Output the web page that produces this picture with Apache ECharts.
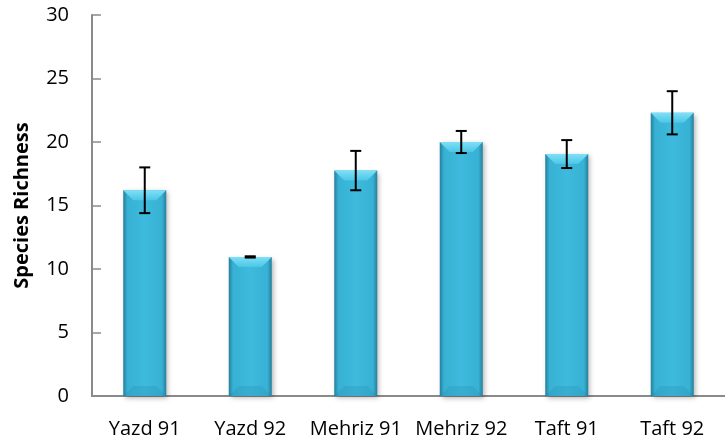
<!DOCTYPE html>
<html>
<head>
<meta charset="utf-8">
<script src="https://cdn.jsdelivr.net/npm/echarts@6/dist/echarts.min.js"></script>
<style>
  html, body { margin: 0; padding: 0; background: #fff; }
  #chart { width: 725px; height: 444px; }
</style>
</head>
<body>
<div id="chart"></div>
<script>
// data
const categories = ['Yazd 91', 'Yazd 92', 'Mehriz 91', 'Mehriz 92', 'Taft 91', 'Taft 92']
const richness = [16.2, 10.95, 17.75, 20.0, 19.05, 22.3]
const errors = [1.8, 0.05, 1.55, 0.87, 1.1, 1.7]
const yTicks = [0, 5, 10, 15, 20, 25, 30]

const FONT = 'Open Sans'
const BAR_W = 43
const AXIS_COLOR = '#8a8a8a'

const chart = echarts.init(document.getElementById('chart'))

// bevel on top / bottom of each bar, placed through the axis scale
function renderBevel(params, api) {
  const top = api.coord([api.value(0), api.value(1)])
  const base = api.coord([api.value(0), 0])
  const l = top[0] - BAR_W / 2, r = top[0] + BAR_W / 2, d = 10
  return {
    type: 'group',
    children: [
      {
        type: 'polygon',
        shape: { points: [[l, top[1]], [r, top[1]], [r - d, top[1] + d], [l + d, top[1] + d]] },
        style: {
          fill: new echarts.graphic.LinearGradient(0, 0, 0, 1, [
            { offset: 0, color: '#7fe0f6' },
            { offset: 1, color: '#4cc6e6' }
          ])
        }
      },
      {
        type: 'polygon',
        shape: { points: [[l, base[1]], [r, base[1]], [r - d, base[1] - d], [l + d, base[1] - d]] },
        style: { fill: 'rgba(30,110,140,0.15)' }
      }
    ]
  }
}

function renderError(params, api) {
  const x = api.value(0)
  const v = api.value(1), e = api.value(2)
  const hi = api.coord([x, v + e])
  const lo = api.coord([x, v - e])
  const cap = 5.5
  const style = { stroke: '#000', lineWidth: 2 }
  return {
    type: 'group',
    children: [
      { type: 'line', shape: { x1: hi[0], y1: hi[1], x2: lo[0], y2: lo[1] }, style },
      { type: 'line', shape: { x1: hi[0] - cap, y1: hi[1], x2: hi[0] + cap, y2: hi[1] }, style },
      { type: 'line', shape: { x1: lo[0] - cap, y1: lo[1], x2: lo[0] + cap, y2: lo[1] }, style }
    ]
  }
}

chart.setOption({
  animation: false,
  grid: { left: 92, right: -7, top: 15, bottom: 48 },
  xAxis: {
    type: 'category',
    data: categories,
    axisLine: { lineStyle: { color: AXIS_COLOR, width: 2 } },
    axisTick: { inside: true, length: 6, lineStyle: { color: AXIS_COLOR, width: 1.5 } },
    axisLabel: { color: '#000', fontFamily: FONT, fontSize: 20, margin: 23, interval: 0, hideOverlap: false }
  },
  yAxis: {
    type: 'value',
    min: yTicks[0], max: yTicks[yTicks.length - 1], interval: 5,
    name: 'Species Richness',
    nameLocation: 'middle',
    nameGap: 60,
    nameTextStyle: { color: '#000', fontFamily: FONT, fontSize: 20, fontWeight: 'bold' },
    axisLine: { show: true, lineStyle: { color: AXIS_COLOR, width: 2 } },
    axisTick: { show: true, inside: true, length: 9, lineStyle: { color: AXIS_COLOR, width: 1.5 } },
    axisLabel: { color: '#000', fontFamily: FONT, fontSize: 20, margin: 23 },
    splitLine: { show: false }
  },
  series: [
    {
      type: 'bar',
      data: richness,
      barWidth: BAR_W,
      itemStyle: {
        color: new echarts.graphic.LinearGradient(0, 0, 1, 0, [
          { offset: 0, color: '#257f9c' },
          { offset: 0.1, color: '#37b1d4' },
          { offset: 0.5, color: '#3dbadd' },
          { offset: 0.9, color: '#37b1d4' },
          { offset: 1, color: '#257f9c' }
        ]),
        shadowColor: 'rgba(0,0,0,0.3)',
        shadowBlur: 5,
        shadowOffsetX: 2,
        shadowOffsetY: 2
      }
    },
    {
      type: 'custom',
      renderItem: renderBevel,
      data: richness.map((v, i) => [i, v]),
      z: 3
    },
    {
      type: 'custom',
      renderItem: renderError,
      data: richness.map((v, i) => [i, v, errors[i]]),
      z: 4
    }
  ]
})
window.addEventListener('resize', () => chart.resize())
</script>
</body>
</html>
